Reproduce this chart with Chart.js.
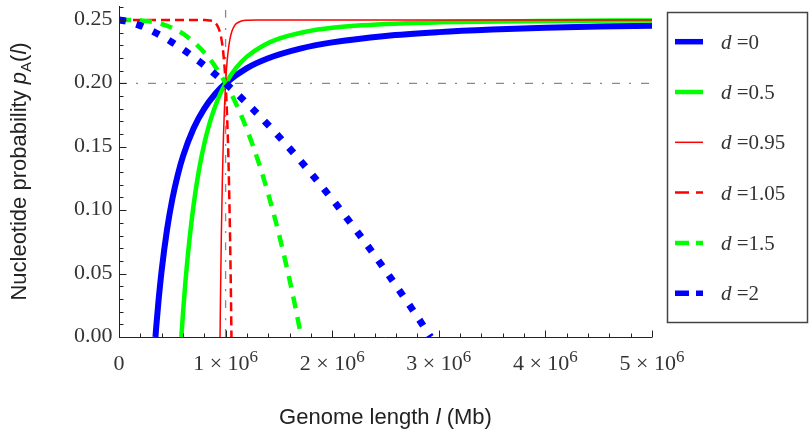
<!DOCTYPE html>
<html>
<head>
<meta charset="utf-8">
<title>Nucleotide probability vs genome length</title>
<script src="https://cdn.jsdelivr.net/npm/chart.js@4.4.1/dist/chart.umd.min.js"></script>
<style>
  html, body { margin: 0; padding: 0; background: #fff; }
  #wrap { width: 809px; height: 430px; }
</style>
</head>
<body>
<div id="wrap"><canvas id="myChart" width="809" height="430"></canvas></div>
<script>
// Values: genome length l and probability p_A(l) for each d
var lenD0 = [342000, 350000, 370000, 400000, 450000, 500000, 550000, 600000, 700000, 800000, 900000, 1000000, 1200000, 1400000, 1700000, 2000000, 2500000, 3000000, 3500000, 4000000, 4500000, 5000000]
var probD0 = [0, 0.0086, 0.0279, 0.0524, 0.0844, 0.1086, 0.1274, 0.1424, 0.1646, 0.1801, 0.1914, 0.2000, 0.2120, 0.2198, 0.2274, 0.2323, 0.2374, 0.2404, 0.2424, 0.2438, 0.2448, 0.2455]

var lenD05 = [585000, 600000, 620000, 650000, 700000, 750000, 800000, 850000, 900000, 950000, 1000000, 1100000, 1200000, 1350000, 1500000, 1750000, 2000000, 2500000, 3000000, 4000000, 5000000]
var probD05 = [0, 0.0185, 0.0402, 0.0679, 0.1042, 0.1315, 0.1523, 0.1686, 0.1814, 0.1917, 0.2000, 0.2124, 0.2211, 0.2297, 0.2352, 0.2407, 0.2438, 0.2468, 0.2481, 0.2492, 0.2496]

var lenD095 = [948000, 952000, 960000, 970000, 980000, 990000, 1000000, 1010000, 1020000, 1040000, 1060000, 1080000, 1100000, 1150000, 1200000, 1300000, 5000000]
var probD095 = [0, 0.0313, 0.0798, 0.1253, 0.1583, 0.1824, 0.2000, 0.2129, 0.2224, 0.2346, 0.2413, 0.2450, 0.2471, 0.2492, 0.2498, 0.2500, 0.2500]

var lenD105 = [0, 700000, 800000, 850000, 900000, 930000, 950000, 970000, 990000, 1000000, 1010000, 1020000, 1030000, 1040000, 1050000, 1055000]
var probD105 = [0.25, 0.25, 0.2499, 0.2496, 0.2479, 0.2443, 0.2393, 0.2300, 0.2130, 0.2000, 0.1826, 0.1594, 0.1286, 0.0878, 0.0339, 0]

var lenD15 = [0, 200000, 400000, 600000, 800000, 900000, 1000000, 1100000, 1200000, 1300000, 1400000, 1500000, 1600000, 1650000, 1710000]
var probD15 = [0.25, 0.2496, 0.2468, 0.2392, 0.2244, 0.2136, 0.2000, 0.1835, 0.1636, 0.1402, 0.1128, 0.0813, 0.0452, 0.0254, 0]

var lenD2 = [0, 100000, 250000, 500000, 750000, 1000000, 1250000, 1500000, 1750000, 2000000, 2250000, 2500000, 2750000, 2924000]
var probD2 = [0.25, 0.2484, 0.2438, 0.2323, 0.2175, 0.2000, 0.1801, 0.1581, 0.1342, 0.1086, 0.0813, 0.0524, 0.0220, 0]

// gray dash-dot guide lines
var guideLen = 1000000
var guideProb = 0.2

// axes
var xMax = 5000000
var yMax = 0.261
var xTickValues = [0, 1000000, 2000000, 3000000, 4000000, 5000000]
var xTickLabels = ["0", "1 \u00d7 10^6", "2 \u00d7 10^6", "3 \u00d7 10^6", "4 \u00d7 10^6", "5 \u00d7 10^6"]
var yTickValues = [0, 0.05, 0.10, 0.15, 0.20, 0.25]
var yTickLabels = ["0.00", "0.05", "0.10", "0.15", "0.20", "0.25"]
var legendLabels = ["0", "0.5", "0.95", "1.05", "1.5", "2"]

var SERIF = '"Liberation Serif", "DejaVu Serif", serif'
var SANS = '"Liberation Sans", Arial, sans-serif'

function toPoints(xs, ys) {
  return xs.map(function(x, i) { return {x: x, y: ys[i]} })
}

function curve(xs, ys, color, width, dash, order) {
  return {
    data: toPoints(xs, ys),
    borderColor: color,
    borderWidth: width,
    borderDash: dash,
    borderCapStyle: 'butt',
    cubicInterpolationMode: 'monotone',
    pointRadius: 0,
    fill: false,
    clip: 0,
    order: order
  }
}

var datasets = [
  curve(lenD0, probD0, '#0000ff', 6, [], 6),
  curve(lenD05, probD05, '#00ff00', 4.5, [], 5),
  curve(lenD095, probD095, '#ff0000', 1.5, [], 4),
  curve(lenD105, probD105, '#ff0000', 2.5, [9, 5], 3),
  curve(lenD15, probD15, '#00ff00', 4.5, [12, 9], 2),
  curve(lenD2, probD2, '#0000ff', 7, [7, 11], 1),
  // guide lines sit underneath the curves
  curve([0, xMax], [guideProb, guideProb], '#8a8a8a', 1.3, [8, 9, 2, 10], 10),
  curve([guideLen, guideLen], [0, yMax], '#8a8a8a', 1.3, [8, 9, 2, 10], 10)
]

// draw text made of parts with different fonts (italic, subscript)
function drawRich(ctx, parts, x, y) {
  var total = 0
  parts.forEach(function(p) { ctx.font = p.font; total += ctx.measureText(p.text).width })
  var cx = x - total / 2
  ctx.textAlign = 'left'
  ctx.textBaseline = 'alphabetic'
  parts.forEach(function(p) {
    ctx.font = p.font
    ctx.fillText(p.text, cx, y + (p.dy || 0))
    cx += ctx.measureText(p.text).width
  })
}

// Mathematica style axes: ticks pointing into the plot
var axesPlugin = {
  id: 'mmaAxes',
  afterDatasetsDraw: function(chart) {
    var ctx = chart.ctx
    var xs = chart.scales.x, ys = chart.scales.y
    var x0 = Math.round(xs.getPixelForValue(0)) + 0.5
    var y0 = Math.round(ys.getPixelForValue(0)) + 0.5
    var xEnd = xs.getPixelForValue(xMax)
    var yTop = ys.getPixelForValue(yMax)
    ctx.save()
    ctx.strokeStyle = '#222'
    ctx.lineWidth = 1
    ctx.beginPath()
    ctx.moveTo(x0, yTop); ctx.lineTo(x0, y0)
    ctx.moveTo(x0, y0); ctx.lineTo(xEnd, y0)
    // x ticks every 0.2e6
    for (var i = 0; i <= 25; i++) {
      var px = Math.round(xs.getPixelForValue(i * 200000)) + 0.5
      var len = (i % 5 === 0) ? 7 : 4
      ctx.moveTo(px, y0); ctx.lineTo(px, y0 - len)
    }
    // y ticks every 0.01
    for (var j = 0; j <= 26; j++) {
      var py = Math.round(ys.getPixelForValue(j * 0.01)) + 0.5
      var len2 = (j % 5 === 0) ? 7 : 4
      ctx.moveTo(x0, py); ctx.lineTo(x0 + len2, py)
    }
    ctx.stroke()

    ctx.fillStyle = '#333'
    // y labels
    ctx.font = '22px ' + SERIF
    ctx.textAlign = 'right'
    ctx.textBaseline = 'alphabetic'
    yTickValues.forEach(function(v, k) {
      ctx.fillText(yTickLabels[k], x0 - 7, ys.getPixelForValue(v) + 5)
    })
    // x labels, "^" means superscript
    xTickValues.forEach(function(v, k) {
      var bits = xTickLabels[k].split('^')
      var parts = [{text: bits[0], font: '22px ' + SERIF}]
      if (bits[1]) parts.push({text: bits[1], font: '17px ' + SERIF, dy: -8})
      drawRich(ctx, parts, xs.getPixelForValue(v), 370)
    })

    // axis titles
    ctx.fillStyle = '#222'
    drawRich(ctx, [
      {text: 'Genome length ', font: '22px ' + SANS},
      {text: 'l', font: 'italic 22px ' + SANS},
      {text: ' (Mb)', font: '22px ' + SANS}
    ], (xs.left + xs.right) / 2, 424)

    ctx.translate(26, (ys.top + ys.bottom) / 2)
    ctx.rotate(-Math.PI / 2)
    drawRich(ctx, [
      {text: 'Nucleotide probability ', font: '22px ' + SANS},
      {text: 'p', font: 'italic 22px ' + SANS},
      {text: 'A', font: '15px ' + SANS, dy: 5},
      {text: '(', font: '22px ' + SANS},
      {text: 'l', font: 'italic 22px ' + SANS},
      {text: ')', font: '22px ' + SANS}
    ], 0, 0)
    ctx.restore()
  },
  afterDraw: function(chart) {
    // legend box on the right
    var ctx = chart.ctx
    ctx.save()
    ctx.strokeStyle = '#444'
    ctx.lineWidth = 1.5
    ctx.strokeRect(667.5, 12.5, 140, 310)
    for (var i = 0; i < legendLabels.length; i++) {
      var ds = chart.data.datasets[i]
      var y = 41.7 + i * 50.3
      ctx.beginPath()
      ctx.strokeStyle = ds.borderColor
      ctx.lineWidth = Math.min(ds.borderWidth, 5.5)
      ctx.lineCap = 'butt'
      ctx.setLineDash(ds.borderDash.length ? [14, 7] : [])
      ctx.moveTo(675, y); ctx.lineTo(703, y)
      ctx.stroke()
      ctx.setLineDash([])
      ctx.fillStyle = '#333'
      ctx.textAlign = 'left'
      ctx.textBaseline = 'alphabetic'
      ctx.font = 'italic 21px ' + SERIF
      ctx.fillText('d', 721, y + 7)
      var w = ctx.measureText('d').width
      ctx.font = '21px ' + SERIF
      ctx.fillText(' =' + legendLabels[i], 721 + w, y + 7)
    }
    ctx.restore()
  }
}

var ctx = document.getElementById('myChart').getContext('2d')
var myChart = new Chart(ctx, {
  type: 'line',
  data: { datasets: datasets },
  options: {
    responsive: false,
    animation: false,
    events: [],
    layout: { padding: { left: 119, right: 157, top: 6, bottom: 93 } },
    plugins: { legend: { display: false }, tooltip: { enabled: false } },
    scales: {
      x: { type: 'linear', min: 0, max: xMax, display: false },
      y: { type: 'linear', min: 0, max: yMax, display: false }
    }
  },
  plugins: [axesPlugin]
})
</script>
</body>
</html>
